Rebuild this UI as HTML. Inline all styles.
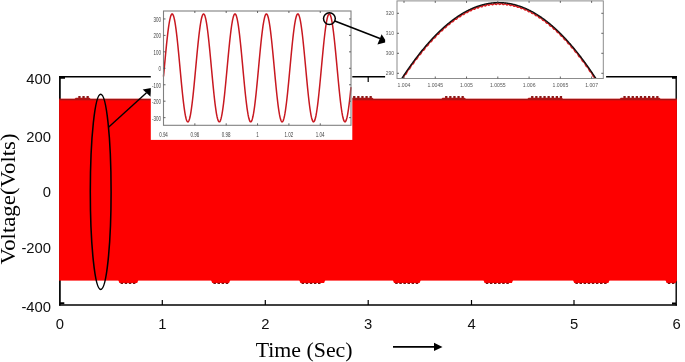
<!DOCTYPE html>
<html><head><meta charset="utf-8"><title>Voltage vs Time</title>
<style>html,body{margin:0;padding:0;background:#fff}svg{display:block}</style></head>
<body>
<svg width="685" height="362" viewBox="0 0 685 362">
<rect x="0" y="0" width="685" height="362" fill="#fff"/>
<g stroke="#000" fill="none">
<path d="M59.9,76.3 V305.6" stroke-width="1.7"/>
<path d="M59,305.0 H677" stroke-width="1.7"/>
<path d="M59,76.8 H677" stroke-width="1.5"/>
<path d="M676.2,76.3 V305.6" stroke-width="1.4"/>
<path d="M162.30,305.0 v-5 M162.30,77.0 v5 M265.30,305.0 v-5 M265.30,77.0 v5 M368.20,305.0 v-5 M368.20,77.0 v5 M471.50,305.0 v-5 M471.50,77.0 v5 M574.00,305.0 v-5 M574.00,77.0 v5 " stroke-width="1.2"/>
</g>
<path d="M60,76.2h5v2.5h-5z M60,302.3h4.3v2h-4.3z M672,76.4h4v2.3h-4z M672,302.4h4v2h-4z" fill="#000"/>
<rect x="59.0" y="98.8" width="617.9" height="181.8" fill="#fe0000"/>
<rect x="59.0" y="98.8" width="617.9" height="1.4" fill="#a01414"/>
<rect x="59.0" y="100.2" width="617.9" height="0.7" fill="#dc0c0c"/>
<rect x="59.0" y="100" width="1.0" height="180" fill="#d80a0a"/>
<path d="M74.2,99.6 L75.7,97.7 H89.5 L91.0,99.6 Z" fill="#b01414"/><path d="M78.3,96.1h2.3v1.9h-2.3z M82.4,96.1h2.3v1.9h-2.3z M86.5,96.1h2.3v1.9h-2.3z " fill="#8c1616"/>
<path d="M163.0,99.6 L164.5,97.7 H182.5 L184.0,99.6 Z" fill="#b01414"/><path d="M167.1,96.1h2.3v1.9h-2.3z M171.2,96.1h2.3v1.9h-2.3z M175.3,96.1h2.3v1.9h-2.3z M179.4,96.1h2.3v1.9h-2.3z " fill="#8c1616"/>
<path d="M255.0,99.6 L256.5,97.7 H276.5 L278.0,99.6 Z" fill="#b01414"/><path d="M259.1,96.1h2.3v1.9h-2.3z M263.2,96.1h2.3v1.9h-2.3z M267.3,96.1h2.3v1.9h-2.3z M271.4,96.1h2.3v1.9h-2.3z " fill="#8c1616"/>
<path d="M349.0,99.6 L350.5,97.7 H372.5 L374.0,99.6 Z" fill="#b01414"/><path d="M353.1,96.1h2.3v1.9h-2.3z M357.2,96.1h2.3v1.9h-2.3z M361.3,96.1h2.3v1.9h-2.3z M365.4,96.1h2.3v1.9h-2.3z M369.5,96.1h2.3v1.9h-2.3z " fill="#8c1616"/>
<path d="M441.0,99.6 L442.5,97.7 H464.8 L466.3,99.6 Z" fill="#b01414"/><path d="M445.1,96.1h2.3v1.9h-2.3z M449.2,96.1h2.3v1.9h-2.3z M453.3,96.1h2.3v1.9h-2.3z M457.4,96.1h2.3v1.9h-2.3z M461.5,96.1h2.3v1.9h-2.3z " fill="#8c1616"/>
<path d="M527.0,99.6 L528.5,97.7 H561.9 L563.4,99.6 Z" fill="#b01414"/><path d="M531.1,96.1h2.3v1.9h-2.3z M535.2,96.1h2.3v1.9h-2.3z M539.3,96.1h2.3v1.9h-2.3z M543.4,96.1h2.3v1.9h-2.3z M547.5,96.1h2.3v1.9h-2.3z M551.6,96.1h2.3v1.9h-2.3z M555.7,96.1h2.3v1.9h-2.3z M559.8,96.1h2.3v1.9h-2.3z " fill="#8c1616"/>
<path d="M619.3,99.6 L620.8,97.7 H659.5 L661.0,99.6 Z" fill="#b01414"/><path d="M623.4,96.1h2.3v1.9h-2.3z M627.5,96.1h2.3v1.9h-2.3z M631.6,96.1h2.3v1.9h-2.3z M635.7,96.1h2.3v1.9h-2.3z M639.8,96.1h2.3v1.9h-2.3z M643.9,96.1h2.3v1.9h-2.3z M648.0,96.1h2.3v1.9h-2.3z M652.1,96.1h2.3v1.9h-2.3z M656.2,96.1h2.3v1.9h-2.3z " fill="#8c1616"/>
<path d="M118.2,280.0 L119.4,283.0 H137.2 L138.4,280.0 Z" fill="#fe0000"/><path d="M120.6,282.7h2.5v1.3h-2.5z M124.7,282.7h2.5v1.3h-2.5z M128.8,282.7h2.5v1.3h-2.5z M132.9,282.7h2.5v1.3h-2.5z " fill="#7a1010"/>
<path d="M211.0,280.0 L212.2,283.0 H229.1 L230.3,280.0 Z" fill="#fe0000"/><path d="M213.4,282.7h2.5v1.3h-2.5z M217.5,282.7h2.5v1.3h-2.5z M221.6,282.7h2.5v1.3h-2.5z M225.7,282.7h2.5v1.3h-2.5z " fill="#7a1010"/>
<path d="M299.2,280.0 L300.4,283.0 H324.1 L325.3,280.0 Z" fill="#fe0000"/><path d="M301.6,282.7h2.5v1.3h-2.5z M305.7,282.7h2.5v1.3h-2.5z M309.8,282.7h2.5v1.3h-2.5z M313.9,282.7h2.5v1.3h-2.5z M318.0,282.7h2.5v1.3h-2.5z " fill="#7a1010"/>
<path d="M392.8,280.0 L394.0,283.0 H419.6 L420.8,280.0 Z" fill="#fe0000"/><path d="M395.2,282.7h2.5v1.3h-2.5z M399.3,282.7h2.5v1.3h-2.5z M403.4,282.7h2.5v1.3h-2.5z M407.5,282.7h2.5v1.3h-2.5z M411.6,282.7h2.5v1.3h-2.5z M415.7,282.7h2.5v1.3h-2.5z " fill="#7a1010"/>
<path d="M483.4,280.0 L484.6,283.0 H511.9 L513.1,280.0 Z" fill="#fe0000"/><path d="M485.8,282.7h2.5v1.3h-2.5z M489.9,282.7h2.5v1.3h-2.5z M494.0,282.7h2.5v1.3h-2.5z M498.1,282.7h2.5v1.3h-2.5z M502.2,282.7h2.5v1.3h-2.5z M506.3,282.7h2.5v1.3h-2.5z " fill="#7a1010"/>
<path d="M573.0,280.0 L574.2,283.0 H608.4 L609.6,280.0 Z" fill="#fe0000"/><path d="M575.4,282.7h2.5v1.3h-2.5z M579.5,282.7h2.5v1.3h-2.5z M583.6,282.7h2.5v1.3h-2.5z M587.7,282.7h2.5v1.3h-2.5z M591.8,282.7h2.5v1.3h-2.5z M595.9,282.7h2.5v1.3h-2.5z M600.0,282.7h2.5v1.3h-2.5z M604.1,282.7h2.5v1.3h-2.5z " fill="#7a1010"/>
<path d="M665.4,280.0 L666.6,283.0 H675.7 L676.9,280.0 Z" fill="#fe0000"/><path d="M667.8,282.7h2.5v1.3h-2.5z M671.9,282.7h2.5v1.3h-2.5z " fill="#7a1010"/>
<g font-family="Liberation Sans, Arial, sans-serif" font-size="14.8" fill="#111">
<text x="51" y="84.2" text-anchor="end">400</text>
<text x="51" y="141.5" text-anchor="end">200</text>
<text x="51" y="197.2" text-anchor="end">0</text>
<text x="51" y="253.0" text-anchor="end">-200</text>
<text x="51" y="311.5" text-anchor="end">-400</text>
<text x="59.8" y="329.0" text-anchor="middle">0</text>
<text x="162.3" y="329.0" text-anchor="middle">1</text>
<text x="265.3" y="329.0" text-anchor="middle">2</text>
<text x="368.2" y="329.0" text-anchor="middle">3</text>
<text x="471.5" y="329.0" text-anchor="middle">4</text>
<text x="574.0" y="329.0" text-anchor="middle">5</text>
<text x="676.6" y="329.0" text-anchor="middle">6</text>
</g>
<g font-family="Liberation Serif, Times New Roman, serif" fill="#000">
<text x="255.7" y="356.8" font-size="20.8" textLength="96.9" lengthAdjust="spacingAndGlyphs">Time (Sec)</text>
<text transform="translate(15.4,264.4) rotate(-90)" font-size="20.8" textLength="131" lengthAdjust="spacingAndGlyphs">Voltage(Volts)</text>
</g>
<path d="M393,346.9 H436" stroke="#000" stroke-width="1.6" fill="none"/>
<path d="M442.5,346.9 l-8.5,-4.1 v8.2 z" fill="#000"/>
<ellipse cx="100.7" cy="191.8" rx="10.4" ry="97.6" fill="none" stroke="#000" stroke-width="1.55"/>
<path d="M108.5,127.2 L146.5,92.8" stroke="#000" stroke-width="1.4" fill="none"/>
<path d="M151.2,88.0 L142.7,89.6 L150.6,96.8 Z" fill="#000"/>
<rect x="150.8" y="0" width="201.5" height="139.9" fill="#fff"/>
<path d="M163.5,76.45 L164.0,71.08 L164.5,65.69 L165.0,60.31 L165.5,55.01 L166.0,49.84 L166.5,44.85 L167.0,40.09 L167.5,35.61 L168.0,31.45 L168.5,27.65 L169.0,24.26 L169.5,21.30 L170.0,18.81 L170.5,16.81 L171.0,15.32 L171.5,14.35 L172.0,13.92 L172.5,14.03 L173.0,14.67 L173.5,15.85 L174.0,17.55 L174.5,19.75 L175.0,22.43 L175.5,25.57 L176.0,29.13 L176.5,33.07 L177.0,37.37 L177.5,41.96 L178.0,46.82 L178.5,51.89 L179.0,57.12 L179.5,62.46 L180.0,67.85 L180.5,73.24 L181.0,78.57 L181.5,83.81 L182.0,88.88 L182.5,93.74 L183.0,98.35 L183.5,102.65 L184.0,106.60 L184.5,110.17 L185.0,113.31 L185.5,116.00 L186.0,118.21 L186.5,119.92 L187.0,121.11 L187.5,121.77 L188.0,121.88 L188.5,121.46 L189.0,120.51 L189.5,119.03 L190.0,117.04 L190.5,114.55 L191.0,111.60 L191.5,108.22 L192.0,104.43 L192.5,100.28 L193.0,95.80 L193.5,91.05 L194.0,86.06 L194.5,80.89 L195.0,75.60 L195.5,70.22 L196.0,64.82 L196.5,59.46 L197.0,54.17 L197.5,49.03 L198.0,44.07 L198.5,39.35 L199.0,34.92 L199.5,30.82 L200.0,27.08 L200.5,23.76 L201.0,20.87 L201.5,18.46 L202.0,16.53 L202.5,15.13 L203.0,14.25 L203.5,13.90 L204.0,14.09 L204.5,14.83 L205.0,16.09 L205.5,17.87 L206.0,20.15 L206.5,22.90 L207.0,26.11 L207.5,29.73 L208.0,33.74 L208.5,38.08 L209.0,42.73 L209.5,47.62 L210.0,52.72 L210.5,57.97 L211.0,63.32 L211.5,68.71 L212.0,74.10 L212.5,79.42 L213.0,84.63 L213.5,89.67 L214.0,94.50 L214.5,99.06 L215.0,103.30 L215.5,107.20 L216.0,110.70 L216.5,113.77 L217.0,116.39 L217.5,118.52 L218.0,120.15 L218.5,121.25 L219.0,121.82 L219.5,121.85 L220.0,121.35 L220.5,120.31 L221.0,118.74 L221.5,116.67 L222.0,114.11 L222.5,111.09 L223.0,107.64 L223.5,103.79 L224.0,99.58 L224.5,95.06 L225.0,90.26 L225.5,85.24 L226.0,80.05 L226.5,74.74 L227.0,69.36 L227.5,63.96 L228.0,58.60 L228.5,53.34 L229.0,48.22 L229.5,43.30 L230.0,38.62 L230.5,34.24 L231.0,30.19 L231.5,26.52 L232.0,23.26 L232.5,20.45 L233.0,18.11 L233.5,16.27 L234.0,14.95 L234.5,14.15 L235.0,13.89 L235.5,14.18 L236.0,14.99 L236.5,16.34 L237.0,18.20 L237.5,20.56 L238.0,23.39 L238.5,26.66 L239.0,30.35 L239.5,34.41 L240.0,38.81 L240.5,43.49 L241.0,48.42 L241.5,53.55 L242.0,58.82 L242.5,64.18 L243.0,69.57 L243.5,74.95 L244.0,80.26 L244.5,85.45 L245.0,90.46 L245.5,95.24 L246.0,99.76 L246.5,103.95 L247.0,107.78 L247.5,111.22 L248.0,114.22 L248.5,116.76 L249.0,118.81 L249.5,120.36 L250.0,121.38 L250.5,121.86 L251.0,121.81 L251.5,121.22 L252.0,120.09 L252.5,118.44 L253.0,116.29 L253.5,113.66 L254.0,110.57 L254.5,107.05 L255.0,103.14 L255.5,98.88 L256.0,94.31 L256.5,89.47 L257.0,84.42 L257.5,79.21 L258.0,73.88 L258.5,68.49 L259.0,63.10 L259.5,57.75 L260.0,52.51 L260.5,47.42 L261.0,42.53 L261.5,37.90 L262.0,33.57 L262.5,29.58 L263.0,25.97 L263.5,22.78 L264.0,20.05 L264.5,17.79 L265.0,16.03 L265.5,14.79 L266.0,14.08 L266.5,13.90 L267.0,14.27 L267.5,15.17 L268.0,16.60 L268.5,18.54 L269.0,20.98 L269.5,23.88 L270.0,27.22 L270.5,30.97 L271.0,35.09 L271.5,39.54 L272.0,44.27 L272.5,49.23 L273.0,54.38 L273.5,59.67 L274.0,65.04 L274.5,70.44 L275.0,75.81 L275.5,81.10 L276.0,86.26 L276.5,91.24 L277.0,95.99 L277.5,100.45 L278.0,104.59 L278.5,108.36 L279.0,111.73 L279.5,114.66 L280.0,117.12 L280.5,119.10 L281.0,120.56 L281.5,121.49 L282.0,121.89 L282.5,121.75 L283.0,121.07 L283.5,119.86 L284.0,118.13 L284.5,115.90 L285.0,113.19 L285.5,110.03 L286.0,106.45 L286.5,102.48 L287.0,98.17 L287.5,93.55 L288.0,88.68 L288.5,83.60 L289.0,78.36 L289.5,73.02 L290.0,67.63 L290.5,62.24 L291.0,56.91 L291.5,51.68 L292.0,46.62 L292.5,41.77 L293.0,37.19 L293.5,32.91 L294.0,28.98 L294.5,25.43 L295.0,22.31 L295.5,19.65 L296.0,17.47 L296.5,15.79 L297.0,14.64 L297.5,14.01 L298.0,13.93 L298.5,14.38 L299.0,15.37 L299.5,16.88 L300.0,18.90 L300.5,21.41 L301.0,24.39 L301.5,27.80 L302.0,31.61 L302.5,35.78 L303.0,40.28 L303.5,45.05 L304.0,50.04 L304.5,55.22 L305.0,60.53 L305.5,65.90 L306.0,71.30 L306.5,76.66 L307.0,81.94 L307.5,87.07 L308.0,92.02 L308.5,96.72 L309.0,101.14 L309.5,105.22 L310.0,108.93 L310.5,112.23 L311.0,115.09 L311.5,117.47 L312.0,119.36 L312.5,120.74 L313.0,121.59 L313.5,121.90 L314.0,121.68 L314.5,120.91 L315.0,119.62 L315.5,117.81 L316.0,115.50 L316.5,112.72 L317.0,109.49 L317.5,105.84 L318.0,101.81 L318.5,97.45 L319.0,92.79 L319.5,87.88 L320.0,82.77 L320.5,77.51 L321.0,72.16 L321.5,66.77 L322.0,61.38 L322.5,56.06 L323.0,50.86 L323.5,45.83 L324.0,41.02 L324.5,36.48 L325.0,32.25 L325.5,28.38 L326.0,24.90 L326.5,21.86 L327.0,19.27 L327.5,17.17 L328.0,15.57 L328.5,14.50 L329.0,13.96 L329.5,13.96 L330.0,14.50 L330.5,15.57 L331.0,17.17 L331.5,19.27 L332.0,21.86 L332.5,24.90 L333.0,28.38 L333.5,32.25 L334.0,36.48 L334.5,41.02 L335.0,45.83 L335.5,50.86 L336.0,56.06 L336.5,61.38 L337.0,66.77 L337.5,72.16 L338.0,77.51 L338.5,82.77 L339.0,87.88 L339.5,92.79 L340.0,97.45 L340.5,101.81 L341.0,105.84 L341.5,109.49 L342.0,112.72 L342.5,115.50 L343.0,117.81 L343.5,119.62 L344.0,120.91 L344.5,121.68 L345.0,121.90 L345.5,121.59 L346.0,120.74 L346.5,119.36 L347.0,117.47 L347.5,115.09 L348.0,112.23 L348.5,108.93 L349.0,105.22 L349.5,101.14 L350.0,96.72 L350.5,92.02 L351.0,87.07" fill="none" stroke="#c81820" stroke-width="1.5" stroke-linejoin="round"/>
<rect x="163.5" y="11.0" width="187.5" height="114.3" fill="none" stroke="#808080" stroke-width="1.1"/>
<path d="M194.85,11.0 v2 M194.85,125.3 v-2 M226.20,11.0 v2 M226.20,125.3 v-2 M257.55,11.0 v2 M257.55,125.3 v-2 M288.90,11.0 v2 M288.90,125.3 v-2 M320.25,11.0 v2 M320.25,125.3 v-2 M163.5,117.65 h2 M351.0,117.65 h-2 M163.5,101.20 h2 M351.0,101.20 h-2 M163.5,84.75 h2 M351.0,84.75 h-2 M163.5,68.30 h2 M351.0,68.30 h-2 M163.5,51.85 h2 M351.0,51.85 h-2 M163.5,35.40 h2 M351.0,35.40 h-2 M163.5,18.95 h2 M351.0,18.95 h-2 " stroke="#555" stroke-width="0.9" fill="none"/>
<g font-family="Liberation Sans, Arial, sans-serif" font-size="7.6" fill="#3c3c3c">
<text transform="translate(161,120.6) scale(0.59,1)" text-anchor="end">-300</text>
<text transform="translate(161,104.1) scale(0.59,1)" text-anchor="end">-200</text>
<text transform="translate(161,87.7) scale(0.59,1)" text-anchor="end">-100</text>
<text transform="translate(161,71.2) scale(0.59,1)" text-anchor="end">0</text>
<text transform="translate(161,54.7) scale(0.59,1)" text-anchor="end">100</text>
<text transform="translate(161,38.3) scale(0.59,1)" text-anchor="end">200</text>
<text transform="translate(161,21.8) scale(0.59,1)" text-anchor="end">300</text>
<text transform="translate(163.5,137.4) scale(0.59,1)" text-anchor="middle">0.94</text>
<text transform="translate(194.8,137.4) scale(0.59,1)" text-anchor="middle">0.96</text>
<text transform="translate(226.2,137.4) scale(0.59,1)" text-anchor="middle">0.98</text>
<text transform="translate(257.6,137.4) scale(0.59,1)" text-anchor="middle">1</text>
<text transform="translate(288.9,137.4) scale(0.59,1)" text-anchor="middle">1.02</text>
<text transform="translate(320.2,137.4) scale(0.59,1)" text-anchor="middle">1.04</text>
</g>
<circle cx="329.4" cy="18.6" r="5.9" fill="none" stroke="#000" stroke-width="1.5"/>
<path d="M334.8,20.9 L380,38.6" stroke="#000" stroke-width="1.6" fill="none"/>
<rect x="385.1" y="0" width="221.0" height="92" fill="#fff"/>
<clipPath id="c2"><rect x="397.0" y="0.9" width="206.29999999999995" height="77.6"/></clipPath>
<g clip-path="url(#c2)" fill="none" stroke-linejoin="round">
<path d="M397.0,86.69 L397.4,86.09 L397.8,85.71 L398.2,85.45 L398.6,85.13 L399.0,84.60 L399.4,83.81 L399.8,82.84 L400.2,81.85 L400.6,81.02 L401.0,80.43 L401.4,80.08 L401.8,79.84 L402.2,79.54 L402.6,79.02 L403.0,78.26 L403.4,77.31 L403.8,76.35 L404.2,75.53 L404.6,74.97 L405.0,74.64 L405.4,74.42 L405.8,74.13 L406.2,73.64 L406.6,72.90 L407.0,71.97 L407.4,71.03 L407.8,70.23 L408.2,69.69 L408.6,69.38 L409.0,69.18 L409.4,68.92 L409.8,68.45 L410.2,67.73 L410.6,66.82 L411.0,65.90 L411.4,65.13 L411.8,64.60 L412.2,64.32 L412.6,64.14 L413.0,63.90 L413.4,63.45 L413.8,62.75 L414.2,61.87 L414.6,60.96 L415.0,60.21 L415.4,59.71 L415.8,59.44 L416.2,59.29 L416.6,59.07 L417.0,58.64 L417.4,57.96 L417.8,57.10 L418.2,56.22 L418.6,55.49 L419.0,55.01 L419.4,54.77 L419.8,54.64 L420.2,54.44 L420.6,54.03 L421.0,53.37 L421.4,52.54 L421.8,51.68 L422.2,50.97 L422.6,50.51 L423.0,50.29 L423.4,50.18 L423.8,50.00 L424.2,49.62 L424.6,48.98 L425.0,48.17 L425.4,47.33 L425.8,46.64 L426.2,46.21 L426.6,46.01 L427.0,45.92 L427.4,45.77 L427.8,45.40 L428.2,44.79 L428.6,43.99 L429.0,43.18 L429.4,42.51 L429.8,42.10 L430.2,41.92 L430.6,41.86 L431.0,41.73 L431.4,41.39 L431.8,40.79 L432.2,40.02 L432.6,39.23 L433.0,38.59 L433.4,38.20 L433.8,38.04 L434.2,38.00 L434.6,37.89 L435.0,37.57 L435.4,37.00 L435.8,36.25 L436.2,35.48 L436.6,34.86 L437.0,34.49 L437.4,34.36 L437.8,34.34 L438.2,34.25 L438.6,33.96 L439.0,33.41 L439.4,32.68 L439.8,31.94 L440.2,31.34 L440.6,30.99 L441.0,30.88 L441.4,30.88 L441.8,30.82 L442.2,30.55 L442.6,30.02 L443.0,29.32 L443.4,28.60 L443.8,28.02 L444.2,27.70 L444.6,27.61 L445.0,27.63 L445.4,27.59 L445.8,27.34 L446.2,26.84 L446.6,26.16 L447.0,25.46 L447.4,24.91 L447.8,24.61 L448.2,24.54 L448.6,24.59 L449.0,24.57 L449.4,24.34 L449.8,23.87 L450.2,23.21 L450.6,22.53 L451.0,22.00 L451.4,21.72 L451.8,21.68 L452.2,21.75 L452.6,21.75 L453.0,21.55 L453.4,21.09 L453.8,20.46 L454.2,19.80 L454.6,19.30 L455.0,19.04 L455.4,19.02 L455.8,19.12 L456.2,19.15 L456.6,18.97 L457.0,18.53 L457.4,17.92 L457.8,17.29 L458.2,16.80 L458.6,16.57 L459.0,16.58 L459.4,16.69 L459.8,16.74 L460.2,16.59 L460.6,16.18 L461.0,15.59 L461.4,14.98 L461.8,14.52 L462.2,14.31 L462.6,14.34 L463.0,14.48 L463.4,14.55 L463.8,14.42 L464.2,14.03 L464.6,13.47 L465.0,12.88 L465.4,12.44 L465.8,12.26 L466.2,12.31 L466.6,12.47 L467.0,12.57 L467.4,12.46 L467.8,12.10 L468.2,11.55 L468.6,10.99 L469.0,10.58 L469.4,10.42 L469.8,10.49 L470.2,10.68 L470.6,10.80 L471.0,10.71 L471.4,10.37 L471.8,9.85 L472.2,9.31 L472.6,8.92 L473.0,8.79 L473.4,8.88 L473.8,9.09 L474.2,9.24 L474.6,9.18 L475.0,8.86 L475.4,8.36 L475.8,7.85 L476.2,7.48 L476.6,7.37 L477.0,7.49 L477.4,7.72 L477.8,7.89 L478.2,7.85 L478.6,7.56 L479.0,7.08 L479.4,6.59 L479.8,6.25 L480.2,6.16 L480.6,6.30 L481.0,6.56 L481.4,6.75 L481.8,6.74 L482.2,6.47 L482.6,6.02 L483.0,5.55 L483.4,5.23 L483.8,5.16 L484.2,5.33 L484.6,5.61 L485.0,5.83 L485.4,5.83 L485.8,5.59 L486.2,5.16 L486.6,4.72 L487.0,4.42 L487.4,4.38 L487.8,4.57 L488.2,4.87 L488.6,5.11 L489.0,5.15 L489.4,4.92 L489.8,4.52 L490.2,4.10 L490.6,3.83 L491.0,3.81 L491.4,4.02 L491.8,4.35 L492.2,4.61 L492.6,4.67 L493.0,4.47 L493.4,4.09 L493.8,3.69 L494.2,3.45 L494.6,3.45 L495.0,3.69 L495.4,4.04 L495.8,4.33 L496.2,4.41 L496.6,4.23 L497.0,3.88 L497.4,3.50 L497.8,3.28 L498.2,3.31 L498.6,3.57 L499.0,3.94 L499.4,4.25 L499.8,4.36 L500.2,4.20 L500.6,3.87 L501.0,3.52 L501.4,3.32 L501.8,3.37 L502.2,3.66 L502.6,4.06 L503.0,4.39 L503.4,4.52 L503.8,4.39 L504.2,4.08 L504.6,3.76 L505.0,3.58 L505.4,3.65 L505.8,3.96 L506.2,4.39 L506.6,4.74 L507.0,4.89 L507.4,4.79 L507.8,4.51 L508.2,4.20 L508.6,4.05 L509.0,4.15 L509.4,4.48 L509.8,4.93 L510.2,5.31 L510.6,5.48 L511.0,5.40 L511.4,5.14 L511.8,4.86 L512.2,4.73 L512.6,4.85 L513.0,5.21 L513.4,5.68 L513.8,6.09 L514.2,6.28 L514.6,6.23 L515.0,5.99 L515.4,5.73 L515.8,5.63 L516.2,5.77 L516.6,6.16 L517.0,6.65 L517.4,7.08 L517.8,7.30 L518.2,7.26 L518.6,7.05 L519.0,6.82 L519.4,6.74 L519.8,6.91 L520.2,7.31 L520.6,7.83 L521.0,8.28 L521.4,8.52 L521.8,8.51 L522.2,8.32 L522.6,8.12 L523.0,8.06 L523.4,8.25 L523.8,8.68 L524.2,9.22 L524.6,9.69 L525.0,9.96 L525.4,9.97 L525.8,9.81 L526.2,9.62 L526.6,9.59 L527.0,9.80 L527.4,10.26 L527.8,10.82 L528.2,11.32 L528.6,11.61 L529.0,11.65 L529.4,11.50 L529.8,11.34 L530.2,11.33 L530.6,11.57 L531.0,12.05 L531.4,12.63 L531.8,13.15 L532.2,13.47 L532.6,13.53 L533.0,13.41 L533.4,13.27 L533.8,13.28 L534.2,13.55 L534.6,14.04 L535.0,14.65 L535.4,15.20 L535.8,15.54 L536.2,15.62 L536.6,15.53 L537.0,15.41 L537.4,15.45 L537.8,15.73 L538.2,16.25 L538.6,16.89 L539.0,17.46 L539.4,17.82 L539.8,17.92 L540.2,17.85 L540.6,17.76 L541.0,17.82 L541.4,18.13 L541.8,18.67 L542.2,19.33 L542.6,19.92 L543.0,20.30 L543.4,20.43 L543.8,20.39 L544.2,20.32 L544.6,20.40 L545.0,20.73 L545.4,21.30 L545.8,21.98 L546.2,22.59 L546.6,23.00 L547.0,23.15 L547.4,23.13 L547.8,23.08 L548.2,23.19 L548.6,23.54 L549.0,24.13 L549.4,24.83 L549.8,25.47 L550.2,25.90 L550.6,26.08 L551.0,26.08 L551.4,26.05 L551.8,26.18 L552.2,26.56 L552.6,27.17 L553.0,27.90 L553.4,28.56 L553.8,29.01 L554.2,29.21 L554.6,29.23 L555.0,29.23 L555.4,29.38 L555.8,29.78 L556.2,30.42 L556.6,31.16 L557.0,31.85 L557.4,32.32 L557.8,32.55 L558.2,32.59 L558.6,32.61 L559.0,32.78 L559.4,33.21 L559.8,33.87 L560.2,34.64 L560.6,35.34 L561.0,35.84 L561.4,36.09 L561.8,36.15 L562.2,36.20 L562.6,36.39 L563.0,36.84 L563.4,37.52 L563.8,38.31 L564.2,39.04 L564.6,39.56 L565.0,39.83 L565.4,39.91 L565.8,39.98 L566.2,40.20 L566.6,40.67 L567.0,41.37 L567.4,42.19 L567.8,42.94 L568.2,43.48 L568.6,43.77 L569.0,43.88 L569.4,43.97 L569.8,44.21 L570.2,44.70 L570.6,45.43 L571.0,46.27 L571.4,47.04 L571.8,47.60 L572.2,47.92 L572.6,48.05 L573.0,48.16 L573.4,48.42 L573.8,48.93 L574.2,49.68 L574.6,50.54 L575.0,51.34 L575.4,51.92 L575.8,52.26 L576.2,52.41 L576.6,52.55 L577.0,52.83 L577.4,53.36 L577.8,54.13 L578.2,55.02 L578.6,55.83 L579.0,56.44 L579.4,56.80 L579.8,56.97 L580.2,57.13 L580.6,57.43 L581.0,57.99 L581.4,58.78 L581.8,59.69 L582.2,60.53 L582.6,61.16 L583.0,61.53 L583.4,61.73 L583.8,61.91 L584.2,62.24 L584.6,62.81 L585.0,63.63 L585.4,64.55 L585.8,65.41 L586.2,66.07 L586.6,66.46 L587.0,66.68 L587.4,66.88 L587.8,67.23 L588.2,67.83 L588.6,68.66 L589.0,69.61 L589.4,70.49 L589.8,71.17 L590.2,71.59 L590.6,71.83 L591.0,72.05 L591.4,72.42 L591.8,73.04 L592.2,73.89 L592.6,74.86 L593.0,75.76 L593.4,76.46 L593.8,76.90 L594.2,77.16 L594.6,77.40 L595.0,77.79 L595.4,78.44 L595.8,79.31 L596.2,80.30 L596.6,81.23 L597.0,81.94 L597.4,82.40 L597.8,82.69 L598.2,82.95 L598.6,83.36 L599.0,84.02 L599.4,84.92 L599.8,85.93 L600.2,86.88 L600.6,87.61 L601.0,88.09 L601.4,88.40 L601.8,88.68 L602.2,89.11 L602.6,89.80 L603.0,90.71" stroke="#d81c20" stroke-width="1.6"/>
<path d="M397.0,86.02 L397.4,85.38 L397.8,84.75 L398.2,84.11 L398.6,83.48 L399.0,82.85 L399.4,82.22 L399.8,81.59 L400.2,80.97 L400.6,80.35 L401.0,79.73 L401.4,79.11 L401.8,78.50 L402.2,77.89 L402.6,77.28 L403.0,76.67 L403.4,76.06 L403.8,75.46 L404.2,74.86 L404.6,74.26 L405.0,73.67 L405.4,73.07 L405.8,72.48 L406.2,71.89 L406.6,71.31 L407.0,70.72 L407.4,70.14 L407.8,69.56 L408.2,68.99 L408.6,68.41 L409.0,67.84 L409.4,67.27 L409.8,66.70 L410.2,66.14 L410.6,65.57 L411.0,65.01 L411.4,64.46 L411.8,63.90 L412.2,63.35 L412.6,62.80 L413.0,62.25 L413.4,61.70 L413.8,61.16 L414.2,60.62 L414.6,60.08 L415.0,59.54 L415.4,59.01 L415.8,58.48 L416.2,57.95 L416.6,57.42 L417.0,56.90 L417.4,56.37 L417.8,55.86 L418.2,55.34 L418.6,54.82 L419.0,54.31 L419.4,53.80 L419.8,53.29 L420.2,52.79 L420.6,52.29 L421.0,51.79 L421.4,51.29 L421.8,50.79 L422.2,50.30 L422.6,49.81 L423.0,49.32 L423.4,48.84 L423.8,48.35 L424.2,47.87 L424.6,47.39 L425.0,46.92 L425.4,46.44 L425.8,45.97 L426.2,45.51 L426.6,45.04 L427.0,44.58 L427.4,44.11 L427.8,43.66 L428.2,43.20 L428.6,42.75 L429.0,42.29 L429.4,41.85 L429.8,41.40 L430.2,40.96 L430.6,40.51 L431.0,40.08 L431.4,39.64 L431.8,39.21 L432.2,38.77 L432.6,38.35 L433.0,37.92 L433.4,37.50 L433.8,37.07 L434.2,36.65 L434.6,36.24 L435.0,35.82 L435.4,35.41 L435.8,35.00 L436.2,34.60 L436.6,34.19 L437.0,33.79 L437.4,33.39 L437.8,33.00 L438.2,32.60 L438.6,32.21 L439.0,31.82 L439.4,31.44 L439.8,31.05 L440.2,30.67 L440.6,30.29 L441.0,29.92 L441.4,29.54 L441.8,29.17 L442.2,28.80 L442.6,28.44 L443.0,28.07 L443.4,27.71 L443.8,27.35 L444.2,27.00 L444.6,26.64 L445.0,26.29 L445.4,25.94 L445.8,25.60 L446.2,25.25 L446.6,24.91 L447.0,24.57 L447.4,24.24 L447.8,23.90 L448.2,23.57 L448.6,23.25 L449.0,22.92 L449.4,22.60 L449.8,22.28 L450.2,21.96 L450.6,21.64 L451.0,21.33 L451.4,21.02 L451.8,20.71 L452.2,20.41 L452.6,20.10 L453.0,19.80 L453.4,19.51 L453.8,19.21 L454.2,18.92 L454.6,18.63 L455.0,18.34 L455.4,18.06 L455.8,17.77 L456.2,17.49 L456.6,17.22 L457.0,16.94 L457.4,16.67 L457.8,16.40 L458.2,16.14 L458.6,15.87 L459.0,15.61 L459.4,15.35 L459.8,15.09 L460.2,14.84 L460.6,14.59 L461.0,14.34 L461.4,14.09 L461.8,13.85 L462.2,13.61 L462.6,13.37 L463.0,13.14 L463.4,12.90 L463.8,12.67 L464.2,12.44 L464.6,12.22 L465.0,12.00 L465.4,11.78 L465.8,11.56 L466.2,11.34 L466.6,11.13 L467.0,10.92 L467.4,10.71 L467.8,10.51 L468.2,10.31 L468.6,10.11 L469.0,9.91 L469.4,9.72 L469.8,9.52 L470.2,9.34 L470.6,9.15 L471.0,8.97 L471.4,8.78 L471.8,8.61 L472.2,8.43 L472.6,8.26 L473.0,8.08 L473.4,7.92 L473.8,7.75 L474.2,7.59 L474.6,7.43 L475.0,7.27 L475.4,7.11 L475.8,6.96 L476.2,6.81 L476.6,6.67 L477.0,6.52 L477.4,6.38 L477.8,6.24 L478.2,6.10 L478.6,5.97 L479.0,5.84 L479.4,5.71 L479.8,5.58 L480.2,5.46 L480.6,5.34 L481.0,5.22 L481.4,5.10 L481.8,4.99 L482.2,4.88 L482.6,4.77 L483.0,4.66 L483.4,4.56 L483.8,4.46 L484.2,4.36 L484.6,4.27 L485.0,4.18 L485.4,4.09 L485.8,4.00 L486.2,3.91 L486.6,3.83 L487.0,3.75 L487.4,3.68 L487.8,3.60 L488.2,3.53 L488.6,3.46 L489.0,3.40 L489.4,3.33 L489.8,3.27 L490.2,3.21 L490.6,3.16 L491.0,3.11 L491.4,3.06 L491.8,3.01 L492.2,2.96 L492.6,2.92 L493.0,2.88 L493.4,2.84 L493.8,2.81 L494.2,2.78 L494.6,2.75 L495.0,2.72 L495.4,2.70 L495.8,2.68 L496.2,2.66 L496.6,2.64 L497.0,2.63 L497.4,2.62 L497.8,2.61 L498.2,2.60 L498.6,2.60 L499.0,2.60 L499.4,2.60 L499.8,2.61 L500.2,2.61 L500.6,2.63 L501.0,2.64 L501.4,2.65 L501.8,2.67 L502.2,2.69 L502.6,2.72 L503.0,2.74 L503.4,2.77 L503.8,2.80 L504.2,2.84 L504.6,2.87 L505.0,2.91 L505.4,2.95 L505.8,3.00 L506.2,3.04 L506.6,3.09 L507.0,3.15 L507.4,3.20 L507.8,3.26 L508.2,3.32 L508.6,3.38 L509.0,3.45 L509.4,3.51 L509.8,3.59 L510.2,3.66 L510.6,3.73 L511.0,3.81 L511.4,3.89 L511.8,3.98 L512.2,4.06 L512.6,4.15 L513.0,4.25 L513.4,4.34 L513.8,4.44 L514.2,4.54 L514.6,4.64 L515.0,4.74 L515.4,4.85 L515.8,4.96 L516.2,5.07 L516.6,5.19 L517.0,5.31 L517.4,5.43 L517.8,5.55 L518.2,5.68 L518.6,5.80 L519.0,5.93 L519.4,6.07 L519.8,6.20 L520.2,6.34 L520.6,6.48 L521.0,6.63 L521.4,6.78 L521.8,6.92 L522.2,7.08 L522.6,7.23 L523.0,7.39 L523.4,7.55 L523.8,7.71 L524.2,7.88 L524.6,8.04 L525.0,8.21 L525.4,8.39 L525.8,8.56 L526.2,8.74 L526.6,8.92 L527.0,9.10 L527.4,9.29 L527.8,9.48 L528.2,9.67 L528.6,9.86 L529.0,10.06 L529.4,10.26 L529.8,10.46 L530.2,10.66 L530.6,10.87 L531.0,11.08 L531.4,11.29 L531.8,11.50 L532.2,11.72 L532.6,11.94 L533.0,12.16 L533.4,12.39 L533.8,12.61 L534.2,12.84 L534.6,13.08 L535.0,13.31 L535.4,13.55 L535.8,13.79 L536.2,14.03 L536.6,14.28 L537.0,14.53 L537.4,14.78 L537.8,15.03 L538.2,15.29 L538.6,15.54 L539.0,15.81 L539.4,16.07 L539.8,16.34 L540.2,16.60 L540.6,16.88 L541.0,17.15 L541.4,17.43 L541.8,17.70 L542.2,17.99 L542.6,18.27 L543.0,18.56 L543.4,18.85 L543.8,19.14 L544.2,19.43 L544.6,19.73 L545.0,20.03 L545.4,20.33 L545.8,20.64 L546.2,20.94 L546.6,21.25 L547.0,21.56 L547.4,21.88 L547.8,22.20 L548.2,22.52 L548.6,22.84 L549.0,23.16 L549.4,23.49 L549.8,23.82 L550.2,24.15 L550.6,24.49 L551.0,24.83 L551.4,25.17 L551.8,25.51 L552.2,25.86 L552.6,26.20 L553.0,26.55 L553.4,26.91 L553.8,27.26 L554.2,27.62 L554.6,27.98 L555.0,28.34 L555.4,28.71 L555.8,29.08 L556.2,29.45 L556.6,29.82 L557.0,30.20 L557.4,30.58 L557.8,30.96 L558.2,31.34 L558.6,31.73 L559.0,32.11 L559.4,32.50 L559.8,32.90 L560.2,33.29 L560.6,33.69 L561.0,34.09 L561.4,34.50 L561.8,34.90 L562.2,35.31 L562.6,35.72 L563.0,36.13 L563.4,36.55 L563.8,36.97 L564.2,37.39 L564.6,37.81 L565.0,38.24 L565.4,38.67 L565.8,39.10 L566.2,39.53 L566.6,39.97 L567.0,40.40 L567.4,40.85 L567.8,41.29 L568.2,41.73 L568.6,42.18 L569.0,42.63 L569.4,43.09 L569.8,43.54 L570.2,44.00 L570.6,44.46 L571.0,44.92 L571.4,45.39 L571.8,45.86 L572.2,46.33 L572.6,46.80 L573.0,47.27 L573.4,47.75 L573.8,48.23 L574.2,48.71 L574.6,49.20 L575.0,49.69 L575.4,50.18 L575.8,50.67 L576.2,51.16 L576.6,51.66 L577.0,52.16 L577.4,52.66 L577.8,53.17 L578.2,53.67 L578.6,54.18 L579.0,54.69 L579.4,55.21 L579.8,55.73 L580.2,56.24 L580.6,56.77 L581.0,57.29 L581.4,57.82 L581.8,58.34 L582.2,58.88 L582.6,59.41 L583.0,59.94 L583.4,60.48 L583.8,61.02 L584.2,61.57 L584.6,62.11 L585.0,62.66 L585.4,63.21 L585.8,63.76 L586.2,64.32 L586.6,64.87 L587.0,65.43 L587.4,66.00 L587.8,66.56 L588.2,67.13 L588.6,67.70 L589.0,68.27 L589.4,68.84 L589.8,69.42 L590.2,70.00 L590.6,70.58 L591.0,71.16 L591.4,71.75 L591.8,72.34 L592.2,72.93 L592.6,73.52 L593.0,74.11 L593.4,74.71 L593.8,75.31 L594.2,75.91 L594.6,76.52 L595.0,77.13 L595.4,77.73 L595.8,78.35 L596.2,78.96 L596.6,79.58 L597.0,80.19 L597.4,80.81 L597.8,81.44 L598.2,82.06 L598.6,82.69 L599.0,83.32 L599.4,83.95 L599.8,84.59 L600.2,85.22 L600.6,85.86 L601.0,86.51 L601.4,87.15 L601.8,87.80 L602.2,88.44 L602.6,89.09 L603.0,89.75" stroke="#111" stroke-width="1.4"/>
</g>
<rect x="397.0" y="0.9" width="206.29999999999995" height="77.6" fill="none" stroke="#8c8c8c" stroke-width="1"/>
<path d="M404.00,0.9 v2 M404.00,78.5 v-2 M435.27,0.9 v2 M435.27,78.5 v-2 M466.54,0.9 v2 M466.54,78.5 v-2 M497.81,0.9 v2 M497.81,78.5 v-2 M529.08,0.9 v2 M529.08,78.5 v-2 M560.35,0.9 v2 M560.35,78.5 v-2 M591.62,0.9 v2 M591.62,78.5 v-2 M397.0,73.30 h2 M603.3,73.30 h-2 M397.0,53.30 h2 M603.3,53.30 h-2 M397.0,33.30 h2 M603.3,33.30 h-2 M397.0,13.30 h2 M603.3,13.30 h-2 " stroke="#555" stroke-width="0.9" fill="none"/>
<g font-family="Liberation Sans, Arial, sans-serif" font-size="5.6" fill="#585858">
<text transform="translate(393.9,75.3) scale(0.88,1)" text-anchor="end">290</text>
<text transform="translate(393.9,55.3) scale(0.88,1)" text-anchor="end">300</text>
<text transform="translate(393.9,35.3) scale(0.88,1)" text-anchor="end">310</text>
<text transform="translate(393.9,15.3) scale(0.88,1)" text-anchor="end">320</text>
<text transform="translate(404.0,87.2) scale(0.92,1)" text-anchor="middle">1.004</text>
<text transform="translate(435.3,87.2) scale(0.92,1)" text-anchor="middle">1.0045</text>
<text transform="translate(466.5,87.2) scale(0.92,1)" text-anchor="middle">1.005</text>
<text transform="translate(497.8,87.2) scale(0.92,1)" text-anchor="middle">1.0055</text>
<text transform="translate(529.1,87.2) scale(0.92,1)" text-anchor="middle">1.006</text>
<text transform="translate(560.4,87.2) scale(0.92,1)" text-anchor="middle">1.0065</text>
<text transform="translate(591.6,87.2) scale(0.92,1)" text-anchor="middle">1.007</text>
</g>
<path d="M381.6,34.2 L385.1,39.8 L385.1,42.5 L377.4,44.5 Z" fill="#000"/>
</svg>
</body></html>
